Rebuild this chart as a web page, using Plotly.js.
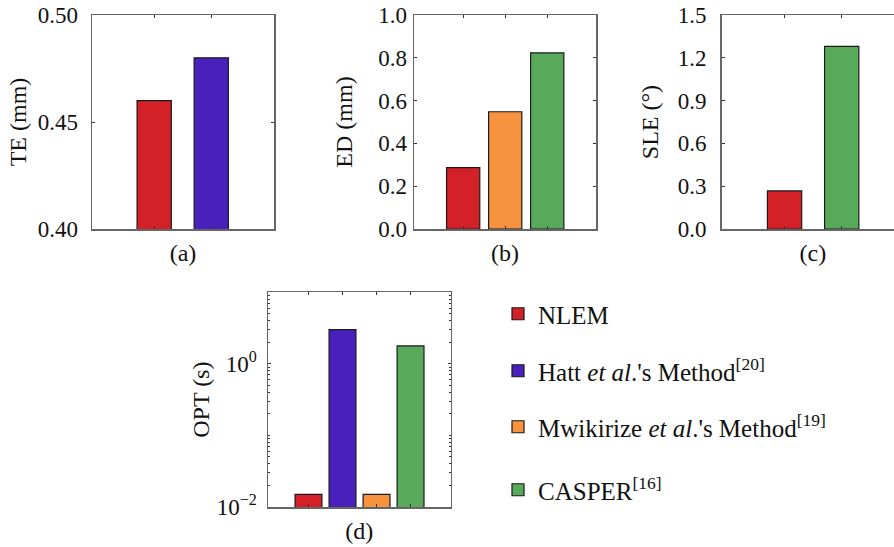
<!DOCTYPE html>
<html><head><meta charset="utf-8">
<script src="https://cdn.plot.ly/plotly-3.0.1.min.js"></script>
<style>html,body{margin:0;padding:0;overflow:hidden;background:#fff;} #chart{width:920px;height:547px;}</style>
</head><body><div id="chart"></div>
<script>
// ---- data ----
const methodKeys = ["NLEM", "Hatt", "Mwikirize", "CASPER"];
const methodLabels = [
  "NLEM",
  "Hatt <i>et al</i>.'s Method<sup>[20]</sup>",
  "Mwikirize <i>et al</i>.'s Method<sup>[19]</sup>",
  "CASPER<sup>[16]</sup>"
];
const methodColors = ["#d42027", "#4a20bd", "#f7923e", "#58aa5a"];

const teMethods = ["NLEM", "Hatt"];
const teValues = [0.46, 0.48];
const edMethods = ["NLEM", "Mwikirize", "CASPER"];
const edValues = [0.287, 0.548, 0.823];
const sleMethods = ["NLEM", "CASPER"];
const sleValues = [0.267, 1.28];
const optMethods = ["NLEM", "Hatt", "Mwikirize", "CASPER"];
const optValues = [0.015, 3.0, 0.015, 1.78];

const panelLabels = ["(a)", "(b)", "(c)", "(d)"];
const yTitles = ["TE (mm)", "ED (mm)", "SLE (°)", "OPT (s)"];

// ---- style ----
const FONT = "Liberation Serif";
const FS = 23;      // tick labels
const FT = 24;      // axis titles / panel labels
const FL = 25;      // legend
const TXT = "#111111";
const lineCol = "#666666";

const panels = [
  {m: teMethods, v: teValues, xa: "x", ya: "y", w: 0.6, legend: false},
  {m: edMethods, v: edValues, xa: "x2", ya: "y2", w: 0.79, legend: false},
  {m: sleMethods, v: sleValues, xa: "x3", ya: "y3", w: 0.6, legend: false},
  {m: optMethods, v: optValues, xa: "x4", ya: "y4", w: 0.79, legend: true}
];
const legendIds = ["legend", "legend2", "legend3", "legend4"];

const traces = [];
panels.forEach(p => {
  p.m.forEach((key, i) => {
    const k = methodKeys.indexOf(key);
    traces.push({
      type: "bar",
      x: [key],
      y: [p.v[i]],
      xaxis: p.xa,
      yaxis: p.ya,
      width: p.w,
      name: methodLabels[k],
      marker: {color: methodColors[k], line: {color: "#1a1a1a", width: 1.2}},
      showlegend: p.legend,
      legend: legendIds[k],
      hoverinfo: "y"
    });
  });
});

function xax(domain, cats, range, label, anchor) {
  return {
    domain: domain, anchor: anchor, type: "category", categoryorder: "array", categoryarray: cats,
    range: range, showticklabels: false, ticks: "inside", ticklen: 3, tickwidth: 1,
    tickcolor: "#333", showline: true, linecolor: lineCol, linewidth: 1.5, mirror: "ticks",
    showgrid: false, zeroline: false, fixedrange: true,
    title: {text: label, font: {family: FONT, size: FT, color: TXT}, standoff: 14}
  };
}
function yax(domain, extra, title, lstand, tstand) {
  return Object.assign({
    domain: domain, ticks: "inside", ticklen: 3, tickwidth: 1, tickcolor: "#333",
    showline: true, linecolor: lineCol, linewidth: 1.5, mirror: "ticks",
    showgrid: false, zeroline: false, fixedrange: true,
    tickfont: {family: FONT, size: FS, color: TXT},
    ticklabelstandoff: lstand,
    title: {text: title, font: {family: FONT, size: FT, color: TXT}, standoff: tstand}
  }, extra);
}

const W = 920, H = 547;
const px = v => v / W;
const py = v => 1 - v / H;
const topY = [py(229), py(15)];
const botY = [py(507), py(292.3)];

const layout = {
  width: W, height: H,
  margin: {l: 0, r: 0, t: 0, b: 0},
  paper_bgcolor: "#fff", plot_bgcolor: "#fff",
  barmode: "overlay",
  font: {family: FONT, size: FS, color: TXT},
  xaxis: xax([px(92), px(274)], teMethods, [-1.09, 2.1], panelLabels[0], "y"),
  xaxis2: xax([px(414), px(596)], edMethods, [-1.17, 3.16], panelLabels[1], "y2"),
  xaxis3: xax([px(721.7), px(904)], sleMethods, [-1.1, 2.09], panelLabels[2], "y3"),
  xaxis4: xax([px(268), px(450.7)], optMethods, [-1.19, 4.18], panelLabels[3], "y4"),
  yaxis: yax(topY, {anchor: "x", range: [0.40, 0.50], tickvals: [0.40, 0.45, 0.50], tickformat: ".2f"}, yTitles[0], 8, 4),
  yaxis2: yax(topY, {anchor: "x2", range: [0, 1.0], dtick: 0.2, tickformat: ".1f"}, yTitles[1], 1, 19),
  yaxis3: yax(topY, {anchor: "x3", range: [0, 1.5], dtick: 0.3, tickformat: ".1f"}, yTitles[2], 9, 12),
  yaxis4: yax(botY, {anchor: "x4", type: "log", range: [-2, 1], tickmode: "array",
    tickvals: [0.01, 1], ticktext: ["10<sup>−2</sup>", "10<sup>0</sup>"],
    minor: {ticks: "inside", ticklen: 2, dtick: "D1", tickcolor: "#333"}}, yTitles[3], 5, 0),
  showlegend: true
};

const legendRows = [314, 371, 427, 490];
legendIds.forEach((id, i) => {
  layout[id] = {
    x: px(498), y: py(legendRows[i]), xanchor: "left", yanchor: "middle",
    bgcolor: "rgba(0,0,0,0)", borderwidth: 0,
    font: {family: FONT, size: FL, color: TXT}
  };
});

Plotly.newPlot("chart", traces, layout, {displayModeBar: false, staticPlot: true});
</script>
</body></html>
